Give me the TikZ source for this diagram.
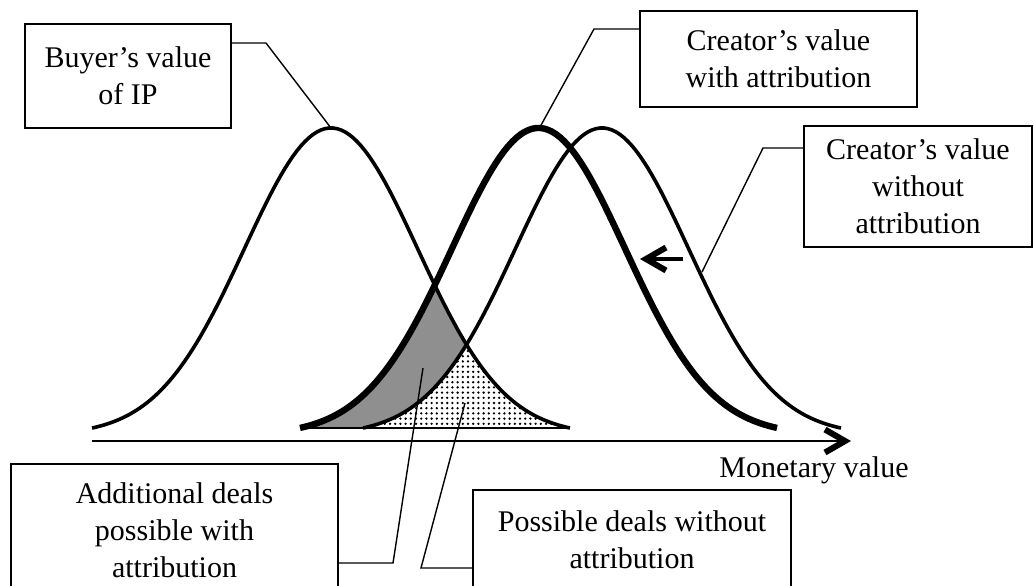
\documentclass[tikz,border=0pt]{standalone}
\usepackage{fontspec}
\setmainfont{Liberation Serif}
\usetikzlibrary{arrows.meta, patterns.meta, calc}
\definecolor{dealgray}{RGB}{143,143,143}
% bell curve: baseline 428, peak 300 above it
\pgfmathdeclarefunction{bell}{2}{%
  \pgfmathparse{428-306.8*(exp(-((#1-#2)/100)*((#1-#2)/100)/1.5)-0.0222)}%
}

\begin{document}
\begin{tikzpicture}[x=0.5pt, y=-0.5pt,
    box/.style={draw, line width=1pt, inner sep=0pt, align=center, font=\fontsize{15}{18.5}\selectfont},
    lbl/.style={font=\fontsize{15}{18.5}\selectfont},
    lead/.style={line width=0.7pt},
    curve/.style={line width=1.8pt},
    boldcurve/.style={line width=3.2pt},
    barb/.style={-{Straight Barb[length=10pt, width=11.5pt, line width=3pt]}}
]
    \useasboundingbox (0,0) rectangle (1034,585);
    \clip (0,0) rectangle (1034,585);

    % deal regions
    \fill[dealgray] (300,428) -- plot[domain=300:434.75, samples=60] (\x,{bell(\x,538.5)})
        -- plot[domain=434.75:466.5, samples=20] (\x,{bell(\x,331)})
        -- plot[domain=466.5:363, samples=40] (\x,{bell(\x,602)}) -- cycle;
    \fill[pattern={Dots[distance=2.6pt, radius=0.65pt]}] (363,428)
        -- plot[domain=363:466.5, samples=40] (\x,{bell(\x,602)})
        -- plot[domain=466.5:570, samples=40] (\x,{bell(\x,331)}) -- cycle;
    \draw[line width=0.6pt] (300,428) -- (570,428);

    % value curves
    \draw[curve] plot[domain=92:570, samples=120] (\x,{bell(\x,331)});
    \draw[curve] plot[domain=363:841, samples=120] (\x,{bell(\x,602)});
    \draw[boldcurve] plot[domain=300:777, samples=120] (\x,{bell(\x,538.5)});

    % axis
    \coordinate (ax0) at (92,441);
    \coordinate (ax1) at (851,441);
    \draw[barb, line width=1.3pt] (ax0) -- (ax1);
    \node[lbl] (axlbl) at (814,470) {Monetary value};

    % shift arrow
    \coordinate (sh0) at (683,259);
    \coordinate (sh1) at (640,259);
    \draw[barb, line width=2pt] (sh0) -- (sh1);

    % label boxes
    \node[box, minimum width=103pt, minimum height=52pt] (buyer) at (128,76) {Buyer’s value\\of IP};
    \node[box, minimum width=138.5pt, minimum height=48pt] (withattr) at (778.5,59) {Creator’s value\\with attribution};
    \node[box, minimum width=114pt, minimum height=60.5pt] (noattr) at (918,186.5) {Creator’s value\\without\\attribution};
    \node[box, minimum width=163.5pt, minimum height=66pt] (extra) at (174.5,530) {Additional deals\\possible with\\attribution};
    \node[box, minimum width=159pt, minimum height=50pt] (possible) at (632,540) {Possible deals without\\attribution};

    % leader lines
    \coordinate (k1) at (266,43);   \coordinate (buyertop) at (331,128);
    \coordinate (k2) at (594,29);   \coordinate (withtop) at (540,127);
    \coordinate (k3) at (763,148);  \coordinate (noside) at (702,272);
    \coordinate (k4) at (393,563);  \coordinate (grayin) at (423,368);
    \coordinate (k5) at (421,568);  \coordinate (dotin) at (465,403);
    \draw[lead] (buyer.east |- k1) -- (k1) -- (buyertop);
    \draw[lead] (withattr.west |- k2) -- (k2) -- (withtop);
    \draw[lead] (noattr.west |- k3) -- (k3) -- (noside);
    \draw[lead] (extra.east |- k4) -- (k4) -- (grayin);
    \draw[lead] (possible.west |- k5) -- (k5) -- (dotin);
\end{tikzpicture}
\end{document}
